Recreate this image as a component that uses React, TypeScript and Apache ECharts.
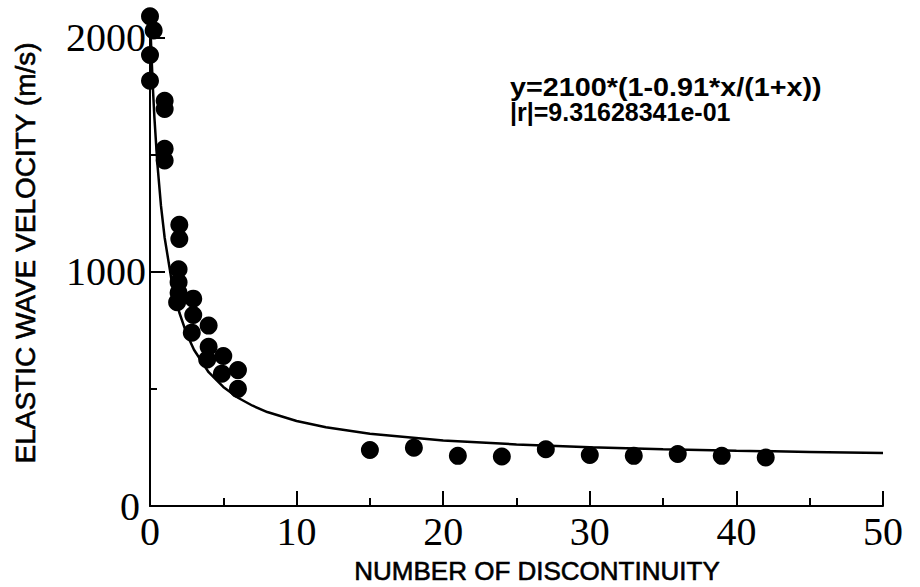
import React, { useEffect, useRef } from "react";
import * as echarts from "echarts";

// Measured points: number of discontinuities vs elastic wave velocity (m/s)
const pointX = [
  0, 0.25, 0, 0,
  1, 1, 1, 1,
  2, 2, 1.95, 1.95, 1.95, 1.85,
  2.95, 2.95, 2.85,
  4, 4, 3.9,
  5, 4.9,
  6, 6,
  15, 18, 21, 24, 27, 30, 33, 36, 39, 42,
];
const pointY = [
  2090, 2030, 1925, 1815,
  1730, 1695, 1525, 1475,
  1200, 1140, 1010, 955, 910, 870,
  885, 815, 740,
  770, 680, 625,
  640, 565,
  580, 500,
  239, 249, 214, 211, 242, 218, 214, 222, 214, 207,
];

// Fitted curve
const curveX = [0, 0.05, 0.1, 0.2, 0.3, 0.5, 0.75, 1, 1.5, 2, 2.5, 3, 4, 5, 6, 7, 8, 10, 12, 15, 20, 25, 30, 35, 40, 45, 50];
const curveY = [2100, 2009, 1926, 1781, 1659, 1463, 1281, 1145, 953, 826, 735, 667, 571, 508, 462, 428, 401, 363, 336, 308, 280, 263, 251, 242, 236, 231, 226];

const xMajorTicks = [0, 10, 20, 30, 40, 50];
const xMinorTicks = [5, 15, 25, 35, 45];
const yMajorTicks = [0, 1000, 2000];
const yUpperLabels = [1000, 2000];
const yZeroLabel = [0];
const yMinorTicks = [500, 1500];

const xTitle = "NUMBER OF DISCONTINUITY";
const yTitle = "ELASTIC WAVE VELOCITY (m/s)";
const fitLine1 = "y=2100*(1-0.91*x/(1+x))";
const fitLine2 = "|r|=9.31628341e-01";

const serif = "'Liberation Serif', 'Times New Roman', serif";
const sans = "'Liberation Sans', Arial, sans-serif";

export default function App() {
  const ref = useRef<HTMLDivElement>(null);
  useEffect(() => {
    if (!ref.current) return;
    const chart = echarts.init(ref.current, null, { renderer: "svg" });
    const axisColor = "#000";
    const points = pointX.map((x, i) => [x, pointY[i]]);
    const curve = curveX.map((x, i) => [x, curveY[i]]);
    const plain = (v: number) => String(v);
    chart.setOption({
      animation: false,
      backgroundColor: "#fff",
      grid: { left: 150, right: 37, top: 14, bottom: 81 },
      xAxis: [
        {
          type: "value",
          min: 0,
          max: 50,
          interval: 10,
          axisLine: { show: true, lineStyle: { color: axisColor, width: 2 } },
          axisTick: { show: true, inside: true, length: 15, customValues: xMajorTicks, lineStyle: { color: axisColor, width: 2 } },
          axisLabel: { color: "#000", fontFamily: serif, fontSize: 40, lineHeight: 24, margin: 13, customValues: xMajorTicks, formatter: plain },
          splitLine: { show: false },
        },
        {
          type: "value",
          min: 0,
          max: 50,
          interval: 5,
          position: "bottom",
          axisLine: { show: false },
          axisTick: { show: true, inside: true, length: 8, customValues: xMinorTicks, lineStyle: { color: axisColor, width: 2 } },
          axisLabel: { show: false },
          splitLine: { show: false },
        },
      ],
      yAxis: [
        {
          type: "value",
          min: 0,
          max: 2100,
          interval: 1000,
          axisLine: { show: true, lineStyle: { color: axisColor, width: 2 } },
          axisTick: { show: true, inside: true, length: 15, customValues: yMajorTicks, lineStyle: { color: axisColor, width: 2 } },
          axisLabel: { color: "#000", fontFamily: serif, fontSize: 40, lineHeight: 24, margin: 4, customValues: yUpperLabels, formatter: plain },
          splitLine: { show: false },
        },
        {
          type: "value",
          min: 0,
          max: 2100,
          interval: 500,
          position: "left",
          axisLine: { show: false },
          axisTick: { show: true, inside: true, length: 7, customValues: yMinorTicks, lineStyle: { color: axisColor, width: 2 } },
          axisLabel: { show: true, color: "#000", fontFamily: serif, fontSize: 40, lineHeight: 24, margin: 10, customValues: yZeroLabel, formatter: plain },
          splitLine: { show: false },
        },
      ],
      graphic: [
        {
          type: "text",
          x: 25,
          y: 253,
          rotation: Math.PI / 2,
          style: { text: yTitle, fill: "#000", stroke: "#000", lineWidth: 0.6, fontFamily: sans, fontSize: 28, lineHeight: 26, align: "center", verticalAlign: "middle" },
        },
        {
          type: "text",
          x: 537,
          y: 571,
          style: { text: xTitle, fill: "#000", stroke: "#000", lineWidth: 0.6, fontFamily: sans, fontSize: 26, lineHeight: 20, align: "center", verticalAlign: "middle" },
        },
        {
          type: "text",
          x: 510,
          y: 76,
          scaleX: 1.15,
          style: { text: fitLine1, fill: "#000", fontFamily: sans, fontSize: 25, lineHeight: 23, fontWeight: "bold", align: "left", verticalAlign: "top" },
        },
        {
          type: "text",
          x: 510,
          y: 100,
          style: { text: fitLine2, fill: "#000", fontFamily: sans, fontSize: 25, lineHeight: 23, fontWeight: "bold", align: "left", verticalAlign: "top" },
        },
      ],
      series: [
        {
          type: "line",
          data: curve,
          showSymbol: false,
          symbol: "none",
          lineStyle: { color: "#000", width: 2.5 },
          z: 2,
        },
        {
          type: "scatter",
          data: points,
          symbol: "circle",
          symbolSize: 18,
          itemStyle: { color: "#000", opacity: 1 },
          clip: false,
          z: 3,
        },
      ],
    });
    return () => chart.dispose();
  }, []);
  return <div ref={ref} style={{ position: "fixed", left: 0, top: 0, width: 920, height: 587 }} />;
}
